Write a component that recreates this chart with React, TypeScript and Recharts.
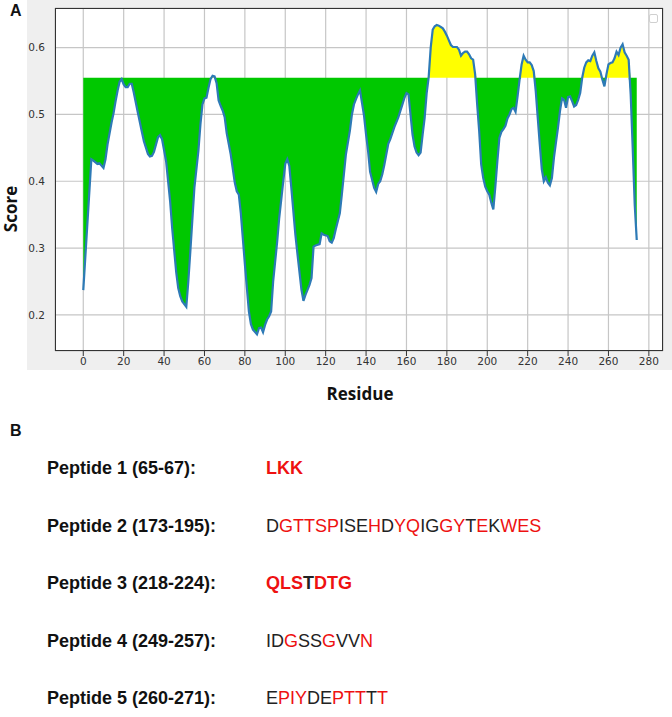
import { ComposedChart, Area, Line, XAxis, YAxis, CartesianGrid } from 'recharts';

// residue index and score
const residues = [
  0, 4, 5, 7, 8, 10, 11, 12, 14, 15, 16, 17, 18, 19, 20, 21, 22, 23, 24, 25, 27, 29, 30, 32, 33, 34, 35, 37, 38, 39,
  41, 43, 44, 46, 47, 48, 49, 51, 52, 53, 55, 57, 58, 59, 60, 61, 62, 63, 64, 65, 66, 67, 68, 69, 70, 71, 73, 75, 76, 77,
  78, 80, 81, 82, 83, 84, 86, 87, 88, 89, 90, 91, 92, 93, 94, 96, 97, 99, 100, 101, 102, 103, 105, 106, 108, 109, 110, 112, 113, 114,
  115, 117, 118, 119, 121, 122, 123, 124, 125, 127, 128, 129, 130, 132, 133, 134, 135, 136, 137, 138, 139, 140, 141, 142, 144, 145, 146, 147, 148, 149,
  151, 152, 154, 156, 158, 159, 160, 161, 162, 163, 164, 165, 166, 167, 168, 169, 170, 171, 172, 173, 174, 175, 176, 177, 178, 179, 180, 181, 182, 183,
  184, 185, 186, 187, 188, 189, 190, 191, 192, 193, 194, 195, 196, 197, 198, 199, 200, 201, 202, 203, 204, 205, 206, 207, 208, 209, 210, 211, 212, 213,
  214, 215, 216, 217, 218, 219, 220, 221, 222, 223, 224, 225, 226, 227, 228, 229, 230, 231, 232, 233, 234, 235, 236, 237, 238, 239, 240, 241, 242, 243,
  244, 245, 246, 247, 248, 249, 250, 251, 252, 253, 254, 255, 256, 257, 258, 259, 260, 261, 262, 263, 264, 265, 266, 267, 268, 269, 270, 271, 272, 273,
  274,
];

const scores = [
  0.237, 0.433, 0.431, 0.426, 0.427, 0.42, 0.433, 0.455, 0.488, 0.502, 0.52, 0.536, 0.549, 0.553, 0.545, 0.541, 0.541, 0.546, 0.546, 0.533, 0.503, 0.474, 0.46, 0.441, 0.437, 0.438, 0.444, 0.466, 0.469, 0.463,
  0.43, 0.37, 0.33, 0.264, 0.24, 0.228, 0.22, 0.212, 0.25, 0.295, 0.39, 0.446, 0.485, 0.515, 0.524, 0.525, 0.54, 0.553, 0.558, 0.557, 0.547, 0.521, 0.513, 0.506, 0.496, 0.472, 0.44, 0.398, 0.385, 0.38,
  0.352, 0.276, 0.24, 0.205, 0.186, 0.178, 0.171, 0.18, 0.181, 0.174, 0.185, 0.193, 0.198, 0.205, 0.25, 0.31, 0.345, 0.4, 0.426, 0.433, 0.423, 0.39, 0.32, 0.292, 0.238, 0.221, 0.23, 0.245, 0.255, 0.302,
  0.304, 0.306, 0.322, 0.32, 0.318, 0.31, 0.308, 0.315, 0.328, 0.352, 0.38, 0.41, 0.44, 0.476, 0.5, 0.515, 0.523, 0.53, 0.536, 0.517, 0.498, 0.47, 0.445, 0.414, 0.39, 0.384, 0.396, 0.4, 0.41, 0.424,
  0.456, 0.463, 0.481, 0.496, 0.515, 0.525, 0.532, 0.53, 0.5, 0.47, 0.452, 0.443, 0.439, 0.443, 0.47, 0.495, 0.532, 0.556, 0.6, 0.627, 0.632, 0.634, 0.633, 0.631, 0.629, 0.624, 0.618, 0.611, 0.604, 0.601,
  0.601, 0.601, 0.597, 0.588, 0.592, 0.594, 0.594, 0.59, 0.584, 0.582, 0.56, 0.515, 0.475, 0.425, 0.405, 0.392, 0.385, 0.38, 0.368, 0.358, 0.392, 0.43, 0.465, 0.474, 0.478, 0.483, 0.494, 0.5, 0.508, 0.51,
  0.504, 0.527, 0.552, 0.575, 0.588, 0.582, 0.578, 0.578, 0.574, 0.565, 0.535, 0.495, 0.455, 0.418, 0.4, 0.406, 0.398, 0.394, 0.405, 0.435, 0.458, 0.48, 0.505, 0.524, 0.522, 0.51, 0.526, 0.527, 0.52, 0.512,
  0.514, 0.522, 0.532, 0.555, 0.57, 0.578, 0.581, 0.58, 0.588, 0.593, 0.58, 0.569, 0.564, 0.552, 0.542, 0.56, 0.575, 0.577, 0.578, 0.584, 0.594, 0.589, 0.6, 0.605, 0.593, 0.588, 0.582, 0.53, 0.45, 0.365,
  0.312,
];

const THRESHOLD = 0.555;

const xTicks = [0, 20, 40, 60, 80, 100, 120, 140, 160, 180, 200, 220, 240, 260, 280];
const minorTicks = [
  -10, -5, 5, 10, 15, 25, 30, 35, 45, 50, 55, 65, 70, 75, 85, 90, 95, 105, 110, 115, 125, 130, 135, 145, 150, 155,
  165, 170, 175, 185, 190, 195, 205, 210, 215, 225, 230, 235, 245, 250, 255, 265, 270, 275, 285,
];
const yTicks = [0.2, 0.3, 0.4, 0.5, 0.6];

const peptideLabels = [
  'Peptide 1 (65-67):',
  'Peptide 2 (173-195):',
  'Peptide 3 (218-224):',
  'Peptide 4 (249-257):',
  'Peptide 5 (260-271):',
];
const peptideSeqs = ['LKK', 'DGTTSPISEHDYQIGGYTEKWES', 'QLSTDTG', 'IDGSSGVVN', 'EPIYDEPTTTT'];
// r = red residue, k = black
const peptideMasks = ['rrr', 'krrrrrkkkrkrrkkrrkrkrrr', 'rrrkrrr', 'kkrkkrkkr', 'krrrkkrrrkr'];
const peptideBold = [true, false, true, false, false];

const data = residues.map((r, i) => ({
  r,
  s: scores[i],
  green: [Math.min(scores[i], THRESHOLD), THRESHOLD],
  yellow: [THRESHOLD, Math.max(scores[i], THRESHOLD)],
}));

const tickFont = { fontSize: 10.5, fill: '#333', fontFamily: 'DejaVu Sans' };
const boldSans = { fontFamily: '"Liberation Sans", Arial, sans-serif', fontWeight: 700, color: '#111' };

export default function App() {
  return (
    <div style={{ position: 'absolute', left: 0, top: 0, width: 672, height: 717, background: '#fff', overflow: 'hidden' }}>
      <div style={{ position: 'absolute', left: 27, top: 0, width: 645, height: 370, background: '#efefef' }} />
      <div style={{ position: 'absolute', left: 55, top: 8, width: 608, height: 343, background: '#fff' }} />

      <ComposedChart
        width={645}
        height={370}
        data={data}
        margin={{ top: 8, right: 9, left: 0, bottom: 0 }}
        style={{ position: 'absolute', left: 27, top: 0 }}
      >
        <CartesianGrid stroke="#c6c6c6" strokeWidth={1.2} />
        <XAxis
          xAxisId="minor"
          dataKey="r"
          type="number"
          domain={[-14, 287]}
          ticks={minorTicks}
          tick={false}
          tickSize={3}
          height={0}
          axisLine={false}
          tickLine={{ stroke: '#333' }}
          allowDataOverflow
        />
        <XAxis
          dataKey="r"
          type="number"
          domain={[-14, 287]}
          ticks={xTicks}
          interval={0}
          tickSize={5}
          tickMargin={2}
          height={19}
          axisLine={false}
          tickLine={{ stroke: '#333' }}
          tick={tickFont}
          allowDataOverflow
        />
        <YAxis
          type="number"
          domain={[0.1459, 0.6594]}
          ticks={yTicks}
          interval={0}
          width={28}
          tickSize={0}
          tickMargin={10}
          axisLine={false}
          tickLine={false}
          tick={tickFont}
          tickFormatter={(v: number) => v.toFixed(1)}
          allowDataOverflow
        />
        <Area type="linear" dataKey="green" fill="#00c800" fillOpacity={1} stroke="none" isAnimationActive={false} />
        <Area type="linear" dataKey="yellow" fill="#ffff00" fillOpacity={1} stroke="none" isAnimationActive={false} />
        <Line type="linear" dataKey="s" stroke="#2d7ab6" strokeWidth={2.2} dot={false} isAnimationActive={false} />
      </ComposedChart>

      <div style={{ position: 'absolute', left: 55, top: 8, width: 608, height: 343, border: '1px solid #333', boxSizing: 'border-box', pointerEvents: 'none' }} />
      <div style={{ position: 'absolute', left: 649, top: 14, width: 9, height: 9, border: '1px solid #d0d0d0', borderRadius: 2, boxSizing: 'border-box', background: '#fff' }} />

      <div style={{ ...boldSans, position: 'absolute', left: 10, top: 3, fontSize: 16, lineHeight: '16px' }}>A</div>
      <div
        style={{
          position: 'absolute', left: 10, top: 209, transform: 'translate(-50%, -50%) rotate(-90deg)',
          fontFamily: '"Open Sans", sans-serif', fontWeight: 700, fontSize: 17, color: '#111', whiteSpace: 'nowrap',
        }}
      >
        Score
      </div>
      <div
        style={{
          position: 'absolute', left: 360, top: 393, transform: 'translate(-50%, -50%)',
          fontFamily: '"Open Sans", sans-serif', fontWeight: 700, fontSize: 17, color: '#111', whiteSpace: 'nowrap',
        }}
      >
        Residue
      </div>

      <div style={{ ...boldSans, position: 'absolute', left: 10, top: 423, fontSize: 16, lineHeight: '16px' }}>B</div>
      {peptideLabels.map((label, i) => (
        <div key={label} style={{ position: 'absolute', left: 0, top: 458 + i * 57.5, height: 20, width: 672, fontSize: 18, lineHeight: '20px' }}>
          <span style={{ ...boldSans, position: 'absolute', left: 47 }}>{label}</span>
          <span
            style={{
              position: 'absolute', left: 266, fontFamily: '"Liberation Sans", Arial, sans-serif', whiteSpace: 'nowrap',
              fontWeight: peptideBold[i] ? 700 : 400,
            }}
          >
            {peptideSeqs[i].split('').map((ch, j) => (
              <span key={j} style={{ color: peptideMasks[i][j] === 'r' ? '#ee1111' : '#222' }}>{ch}</span>
            ))}
          </span>
        </div>
      ))}
    </div>
  );
}
